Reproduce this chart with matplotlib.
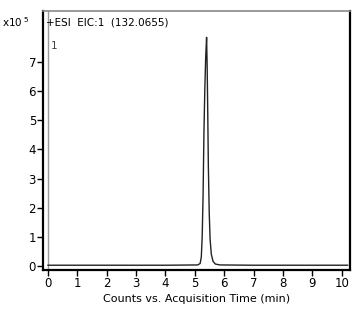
import matplotlib
matplotlib.use('Agg')
import matplotlib.pyplot as plt

# EIC trace, time in min, counts in units of 1e5
time_min = [0.0, 2.0, 4.0, 5.10, 5.18, 5.22, 5.25, 5.28, 5.31, 5.34, 5.37, 5.40,
            5.42, 5.44, 5.46, 5.49, 5.52, 5.56, 5.62, 5.70, 5.85, 7.0, 9.0, 10.2]
counts = [0.02, 0.02, 0.02, 0.03, 0.08, 0.3, 1.0, 2.4, 4.6, 6.1, 7.2, 7.85,
          6.8, 5.2, 3.4, 1.8, 0.9, 0.4, 0.15, 0.06, 0.03, 0.02, 0.02, 0.02]

x_ticks = [0, 1, 2, 3, 4, 5, 6, 7, 8, 9, 10]
y_ticks = [0, 1, 2, 3, 4, 5, 6, 7]

fig = plt.figure(figsize=(3.55, 3.12), dpi=100)
ax = fig.add_axes([0.121, 0.135, 0.864, 0.830])

# grey inner line at the start of the time axis
ax.axvline(0, color='#9a9a9a', lw=1.0)
ax.plot(time_min, counts, color='#222222', lw=1.0)

ax.set_xlim(-0.17, 10.27)
ax.set_ylim(-0.14, 8.76)
ax.set_xticks(x_ticks)
ax.set_yticks(y_ticks)
ax.tick_params(labelsize=8.5, length=4, width=1, direction='out', pad=1)

for name, s in ax.spines.items():
    s.set_linewidth(1.6)
    s.set_color('black')
ax.spines['top'].set_color('#888888')
ax.spines['top'].set_linewidth(1.2)

ax.set_xlabel('Counts vs. Acquisition Time (min)', fontsize=8, labelpad=3)
ax.text(0.01, 0.955, '+ESI  EIC:1  (132.0655)', transform=ax.transAxes,
        fontsize=7.5, va='center', ha='left')
ax.text(0.025, 0.885, '1', transform=ax.transAxes, fontsize=7.5,
        va='top', ha='left', color='#444444')
fig.text(0.005, 0.93, r'x10$^{\ 5}$', fontsize=7.5, va='center', ha='left')

plt.savefig('out.png', dpi=100)
